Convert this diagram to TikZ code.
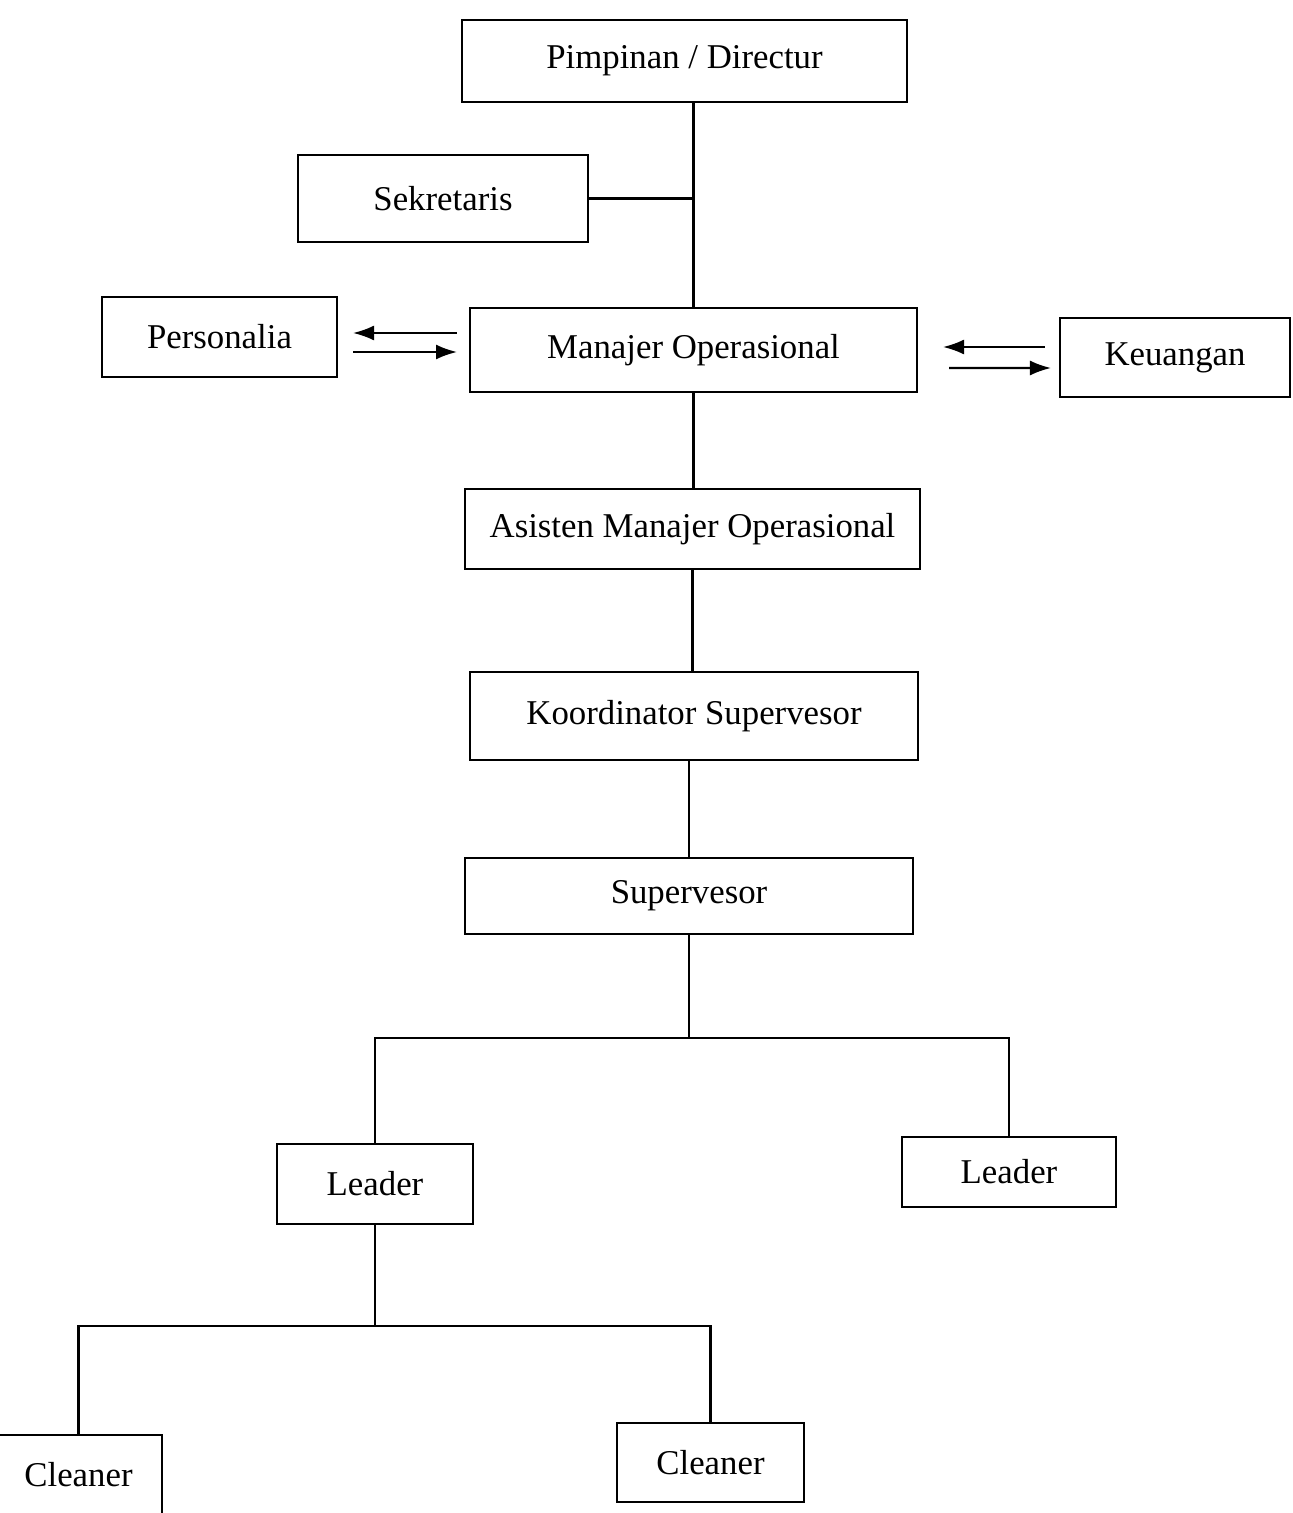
\documentclass[tikz,border=0pt]{standalone}
\usepackage{fontspec}
\setmainfont{Liberation Serif}
\usetikzlibrary{calc,arrows.meta}
\begin{document}
\begin{tikzpicture}[x=0.02cm,y=-0.02cm,
  box/.style={draw, line width=1.2pt, inner sep=0pt, font=\fontsize{19.8}{21}\selectfont},
  ln/.style={line width=1.2pt},
  arr/.style={line width=1.2pt, -{Latex[length=0.42cm,width=0.3cm]}}]
\useasboundingbox (0,0) rectangle (1293,1513);
\clip (0,0) rectangle (1293,1513);
\fill[white] (0,0) rectangle (1293,1513);

\node[box, minimum width=8.9cm, minimum height=1.64cm] (pim) at (684.5,61) {Pimpinan / Directur};
\node[box, minimum width=5.8cm, minimum height=1.74cm] (sek) at (443,198.5) {Sekretaris};
\node[box, minimum width=4.7cm, minimum height=1.6cm] (per) at (219.5,337) {Personalia};
\node[box, minimum width=8.94cm, minimum height=1.68cm] (man) at (693.5,350) {Manajer Operasional};
\node[box, minimum width=4.6cm, minimum height=1.58cm] (keu) at (1175,357.5) {Keuangan};
\node[box, minimum width=9.1cm, minimum height=1.6cm] (asi) at (692.5,529) {Asisten Manajer Operasional};
\node[box, minimum width=8.96cm, minimum height=1.76cm] (koo) at (694,716) {Koordinator Supervesor};
\node[box, minimum width=8.96cm, minimum height=1.52cm] (sup) at (689,896) {Supervesor};
\node[box, minimum width=3.92cm, minimum height=1.6cm] (ldl) at (375,1184) {Leader};
\node[box, minimum width=4.28cm, minimum height=1.4cm] (ldr) at (1009,1172) {Leader};
\node[box, minimum width=3.34cm, minimum height=1.6cm] (cll) at (78.5,1475) {Cleaner};
\node[box, minimum width=3.74cm, minimum height=1.58cm] (clr) at (710.5,1462.5) {Cleaner};

\coordinate (b1) at (689,1038);
\coordinate (b2) at (375,1326);

\draw[ln] (man.north) -- (man.north |- pim.south);
\draw[ln] (sek.east) -- (sek.east -| man.north);
\draw[ln] (man.south) -- (man.south |- asi.north);
\draw[ln] (asi.south) -- (asi.south |- koo.north);
\draw[ln] (sup.north) -- (sup.north |- koo.south);
\draw[ln] (sup.south) -- (b1);
\draw[ln] (ldl.north) -- (ldl.north |- b1) -- (ldr.north |- b1) -- (ldr.north);
\draw[ln] (ldl.south) -- (b2);
\draw[ln] (cll.north) -- (cll.north |- b2) -- (clr.north |- b2) -- (clr.north);

\draw[arr] ($(man.west)+(-12,-17)$) -- ($(per.east)+(15,-4)$);
\draw[arr] ($(per.east)+(15,15)$) -- ($(man.west)+(-12,2)$);
\draw[arr] ($(keu.west)+(-14,-10.5)$) -- ($(man.east)+(25,-3)$);
\draw[arr] ($(man.east)+(31,18)$) -- ($(keu.west)+(-8,10.5)$);
\end{tikzpicture}
\end{document}
